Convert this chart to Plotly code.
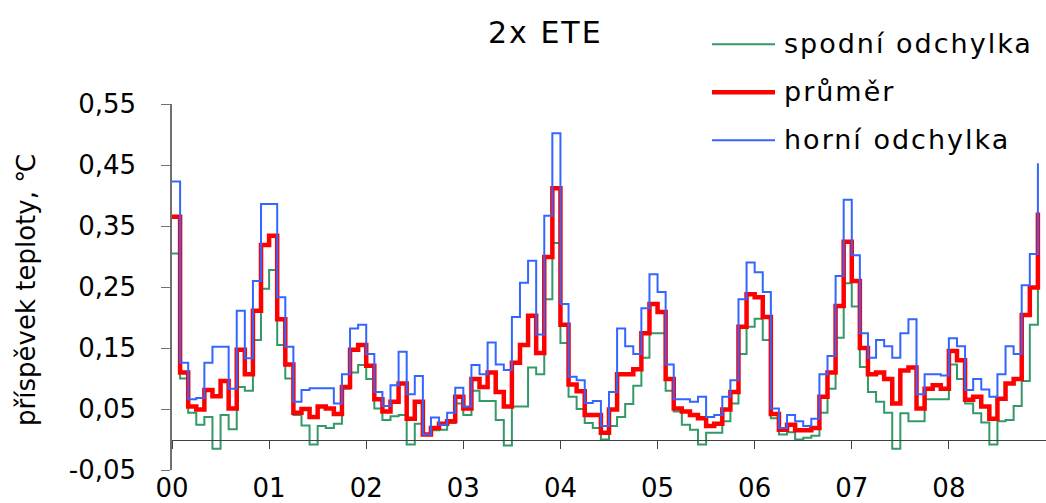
import plotly.graph_objects as go

# time axis: 2-hour steps, in days
step_days = 1 / 12
n_steps = 108

spodni = [0.305, 0.100, 0.044, 0.024, 0.037, -0.015, 0.040, 0.017, 0.086, 0.080, 0.163, 0.247,
          0.278, 0.155, 0.100, 0.040, 0.023, -0.008, 0.022, 0.019, 0.026, 0.083, 0.110, 0.122,
          0.099, 0.051, 0.032, 0.038, 0.040, -0.008, 0.026, 0.008, 0.015, 0.016, 0.027, 0.059,
          0.040, 0.080, 0.063, 0.063, 0.032, -0.010, 0.054, 0.054, 0.118, 0.107, 0.230, 0.322,
          0.158, 0.070, 0.050, 0.027, 0.019, 0.000, 0.022, 0.037, 0.058, 0.088, 0.134, 0.174,
          0.174, 0.080, 0.046, 0.024, 0.016, -0.008, 0.011, 0.011, 0.030, 0.059, 0.140, 0.185,
          0.198, 0.163, 0.035, 0.008, 0.012, 0.000, 0.003, 0.006, 0.044, 0.083, 0.167, 0.256,
          0.218, 0.119, 0.078, 0.062, 0.044, -0.015, 0.043, 0.030, 0.030, 0.066, 0.066, 0.066,
          0.123, 0.099, 0.059, 0.043, 0.028, -0.008, 0.030, 0.032, 0.055, 0.096, 0.188, 0.247]

prumer = [0.365, 0.110, 0.054, 0.049, 0.081, 0.071, 0.096, 0.051, 0.147, 0.107, 0.211, 0.319,
          0.334, 0.197, 0.123, 0.044, 0.050, 0.037, 0.054, 0.051, 0.042, 0.086, 0.147, 0.155,
          0.121, 0.066, 0.046, 0.062, 0.092, 0.034, 0.062, 0.008, 0.019, 0.026, 0.030, 0.070,
          0.051, 0.099, 0.086, 0.110, 0.078, 0.054, 0.126, 0.155, 0.203, 0.142, 0.299, 0.412,
          0.188, 0.090, 0.079, 0.040, 0.040, 0.011, 0.049, 0.107, 0.107, 0.115, 0.174, 0.222,
          0.209, 0.099, 0.051, 0.046, 0.040, 0.035, 0.022, 0.026, 0.049, 0.078, 0.185, 0.238,
          0.233, 0.201, 0.042, 0.016, 0.024, 0.015, 0.015, 0.019, 0.070, 0.110, 0.219, 0.324,
          0.260, 0.150, 0.107, 0.110, 0.099, 0.059, 0.113, 0.118, 0.051, 0.083, 0.089, 0.083,
          0.145, 0.130, 0.065, 0.070, 0.054, 0.034, 0.067, 0.092, 0.099, 0.204, 0.249, 0.372]

horni = [0.423, 0.126, 0.066, 0.068, 0.126, 0.152, 0.152, 0.083, 0.211, 0.133, 0.260, 0.386,
         0.386, 0.233, 0.152, 0.062, 0.081, 0.084, 0.084, 0.084, 0.059, 0.107, 0.182, 0.188,
         0.140, 0.078, 0.055, 0.089, 0.144, 0.074, 0.104, 0.008, 0.036, 0.024, 0.044, 0.085,
         0.054, 0.122, 0.107, 0.159, 0.123, 0.114, 0.201, 0.257, 0.293, 0.172, 0.367, 0.502,
         0.222, 0.103, 0.097, 0.060, 0.063, 0.022, 0.078, 0.182, 0.153, 0.140, 0.215, 0.271,
         0.242, 0.123, 0.066, 0.066, 0.062, 0.070, 0.037, 0.040, 0.070, 0.097, 0.230, 0.290,
         0.274, 0.242, 0.051, 0.019, 0.040, 0.030, 0.022, 0.034, 0.107, 0.137, 0.268, 0.393,
         0.302, 0.174, 0.134, 0.163, 0.153, 0.134, 0.174, 0.197, 0.074, 0.107, 0.107, 0.105,
         0.166, 0.153, 0.081, 0.099, 0.082, 0.070, 0.107, 0.153, 0.140, 0.253, 0.304, 0.453]

x_tick_vals = [0, 1, 2, 3, 4, 5, 6, 7, 8]
x_tick_text = ["00", "01", "02", "03", "04", "05", "06", "07", "08"]
y_tick_vals = [-0.05, 0.05, 0.15, 0.25, 0.35, 0.45, 0.55]
y_tick_text = ["-0,05", "0,05", "0,15", "0,25", "0,35", "0,45", "0,55"]

series_names = ["spodní odchylka", "průměr", "horní odchylka"]
title_text = "2x ETE"
y_title = "příspěvek teploty, ℃"

x = [i * step_days for i in range(n_steps)]

FONT = "DejaVu Sans"
GREEN = "#339966"
RED = "#FF0000"
BLUE = "#3366FF"

W, H = 1046, 503
ML, MR, MT, MB = 172, 0, 104, 25
PW, PH = W - ML - MR, H - MT - MB


def px(xp):
    return (xp - ML) / PW


def py(yp):
    return (H - MB - yp) / PH


def spaced(t, sp):
    return '<span style="letter-spacing:%spx">%s</span>' % (sp, t)


fig = go.Figure()
fig.add_trace(go.Scatter(x=x, y=spodni, mode="lines", line=dict(color=GREEN, width=2, shape="hv"),
                         name=series_names[0], showlegend=False))
fig.add_trace(go.Scatter(x=x, y=prumer, mode="lines", line=dict(color=RED, width=4.5, shape="hv"),
                         name=series_names[1], showlegend=False))
fig.add_trace(go.Scatter(x=x, y=horni, mode="lines", line=dict(color=BLUE, width=2, shape="hv"),
                         name=series_names[2], showlegend=False))
# invisible trace to activate the label axis
fig.add_trace(go.Scatter(x=[0], y=[None], xaxis="x2", showlegend=False, hoverinfo="skip"))

ymin, ymax = -0.05, 0.55
zero_pos = (0 - ymin) / (ymax - ymin)

fig.update_layout(
    width=W, height=H,
    margin=dict(l=ML, r=MR, t=MT, b=MB, pad=0),
    paper_bgcolor="white", plot_bgcolor="white",
    font=dict(family=FONT, size=26, color="black"),
    xaxis=dict(range=[0, 9], anchor="free", position=zero_pos, showline=True, linecolor="#404040",
               linewidth=1, ticks="outside", ticklen=8, tickcolor="#404040", tickvals=x_tick_vals,
               showticklabels=False, showgrid=False, zeroline=False),
    xaxis2=dict(range=[0, 9], overlaying="x", anchor="y", side="bottom", showline=False,
                ticks="", tickvals=x_tick_vals, ticktext=x_tick_text, showgrid=False,
                zeroline=False, tickfont=dict(family=FONT, size=26, color="black")),
    yaxis=dict(range=[ymin, ymax], showline=True, linecolor="#707070", linewidth=1.5,
               ticks="outside", ticklen=9, tickcolor="#707070", tickvals=y_tick_vals,
               ticktext=y_tick_text, showgrid=False, zeroline=False, ticklabelstandoff=20,
               tickfont=dict(family=FONT, size=26, color="black")),
    showlegend=False,
)

annotations = [
    dict(text=spaced(title_text, 2), xref="paper", yref="paper", x=px(545), y=py(31),
         xanchor="center", yanchor="middle", showarrow=False,
         font=dict(family=FONT, size=30, color="black")),
    dict(text=y_title, xref="paper", yref="paper", x=px(26), y=py(294), xanchor="center",
         yanchor="middle", textangle=-90, showarrow=False,
         font=dict(family=FONT, size=26, color="black")),
]
legend_rows = [(43, GREEN, 2), (92, RED, 4.5), (141, BLUE, 2)]
shapes = []
for name, (yy, col, w) in zip(series_names, legend_rows):
    shapes.append(dict(type="line", xref="paper", yref="paper", x0=px(712), x1=px(775),
                       y0=py(yy), y1=py(yy), line=dict(color=col, width=w)))
    annotations.append(dict(text=spaced(name, 2), xref="paper", yref="paper", x=px(782),
                            y=py(yy - 1), xanchor="left", yanchor="middle", showarrow=False,
                            font=dict(family=FONT, size=27, color="black")))
fig.update_layout(annotations=annotations, shapes=shapes)

fig.write_html("out.html", post_script="document.body.style.margin='0';",
               config={"displayModeBar": False})
